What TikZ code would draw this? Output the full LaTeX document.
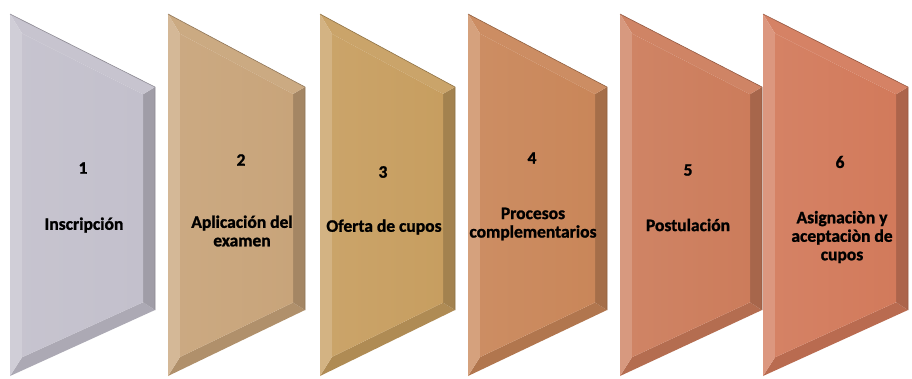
\documentclass[tikz,border=0pt]{standalone}
\usepackage{fontspec}
\setmainfont{Carlito}[BoldFeatures={FakeBold=1.3}]
\definecolor{c1}{HTML}{C3C0CC}
\definecolor{c2}{HTML}{C8A47A}
\definecolor{c3}{HTML}{C79E60}
\definecolor{c4}{HTML}{C98659}
\definecolor{c5}{HTML}{CC7C5B}
\definecolor{c6}{HTML}{D27A5B}
\tikzset{
  lbl/.style={font=\fontsize{17.5}{18.5}\selectfont\bfseries, text=black, align=center, inner sep=0pt},
  num/.style={font=\fontsize{17.5}{18.5}\selectfont\bfseries, text=black, inner sep=0pt},
}
\newcommand{\mypanel}[4]{%
  \pgfmathsetmacro\pL{#1}\pgfmathsetmacro\pR{#2}%
  \pgfmathsetmacro\pW{#2-#1}%
  \pgfmathsetmacro\iL{#1+12}\pgfmathsetmacro\iR{#2-12}%
  \pgfmathsetmacro\yTL{14+73/\pW*12+13.4}%
  \pgfmathsetmacro\yTR{87-73/\pW*12+13.4}%
  \pgfmathsetmacro\yBR{310+66/\pW*12-13.2}%
  \pgfmathsetmacro\yBL{376-66/\pW*12-13.2}%
  \coordinate (#4oTL) at (\pL,14);
  \coordinate (#4oTR) at (\pR,87);
  \coordinate (#4oBR) at (\pR,310);
  \coordinate (#4oBL) at (\pL,376);
  \coordinate (#4iTL) at (\iL,\yTL);
  \coordinate (#4iTR) at (\iR,\yTR);
  \coordinate (#4iBR) at (\iR,\yBR);
  \coordinate (#4iBL) at (\iL,\yBL);
  \fill[#3!88!black] (#4oBL) -- (#4oBR) -- (#4iBR) -- (#4iBL) -- cycle;
  \fill[#3!82!black] (#4oTR) -- (#4oBR) -- (#4iBR) -- (#4iTR) -- cycle;
  \fill[#3!94!white] (#4oTL) -- (#4oTR) -- (#4iTR) -- (#4iTL) -- cycle;
  \fill[#3!78!white] (#4oTL) -- (#4iTL) -- (#4iBL) -- (#4oBL) -- cycle;
  \shade[left color=#3!94!white, right color=#3] (#4iTL) -- (#4iTR) -- (#4iBR) -- (#4iBL) -- cycle;
  \draw[#3!72!black, line width=0.6pt] (#4oTL) -- (#4oTR) -- (#4oBR);
}
\begin{document}
\begin{tikzpicture}[x=1pt,y=-1pt]
\useasboundingbox (0,0) rectangle (912,378);
\fill[white] (0,0) rectangle (912,378);
\mypanel{10}{155}{c1}{p1}
\mypanel{168}{305}{c2}{p2}
\mypanel{320}{455}{c3}{p3}
\mypanel{468}{607}{c4}{p4}
\mypanel{620}{762}{c5}{p5}
\mypanel{763}{908}{c6}{p6}
\node[num] (n1) at (83,168) {1};
\node[lbl] (l1) at (84,225) {Inscripción};
\node[num] (n2) at (241,160) {2};
\node[lbl] (l2) at (242,231) {Aplicación del\\examen};
\node[num] (n3) at (383,172) {3};
\node[lbl] (l3) at (384,227) {Oferta de cupos};
\node[num] (n4) at (532,158) {4};
\node[lbl] (l4) at (533,224) {Procesos\\complementarios};
\node[num] (n5) at (688,170) {5};
\node[lbl] (l5) at (688,225) {Postulación};
\node[num] (n6) at (840,162) {6};
\node[lbl] (l6) at (842,237) {Asignaciòn y\\aceptaciòn de\\cupos};
\end{tikzpicture}
\end{document}
